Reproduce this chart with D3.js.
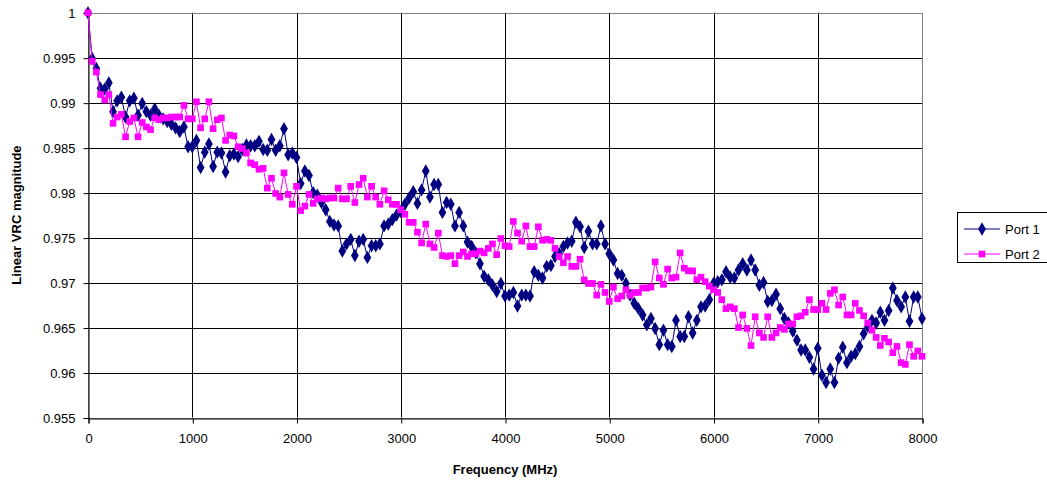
<!DOCTYPE html>
<html>
<head>
<meta charset="utf-8">
<script src="https://cdn.jsdelivr.net/npm/d3@7"></script>
<style>
  body { margin: 0; background: #fff; }
  svg { display: block; font-family: "Liberation Sans", Arial, sans-serif; }
</style>
</head>
<body>
<div id="chart"></div>
<script>
// sweep frequencies (MHz)
var freqMHz = [
  0, 40, 80, 120, 160, 200, 240, 280, 320, 360, 400, 440, 480, 520, 560, 600, 640, 680, 720, 760,
  800, 840, 880, 920, 960, 1000, 1040, 1080, 1120, 1160, 1200, 1240, 1280, 1320, 1360, 1400, 1440, 1480, 1520, 1560,
  1600, 1640, 1680, 1720, 1760, 1800, 1840, 1880, 1920, 1960, 2000, 2040, 2080, 2120, 2160, 2200, 2240, 2280, 2320, 2360,
  2400, 2440, 2480, 2520, 2560, 2600, 2640, 2680, 2720, 2760, 2800, 2840, 2880, 2920, 2960, 3000, 3040, 3080, 3120, 3160,
  3200, 3240, 3280, 3320, 3360, 3400, 3440, 3480, 3520, 3560, 3600, 3640, 3680, 3720, 3760, 3800, 3840, 3880, 3920, 3960,
  4000, 4040, 4080, 4120, 4160, 4200, 4240, 4280, 4320, 4360, 4400, 4440, 4480, 4520, 4560, 4600, 4640, 4680, 4720, 4760,
  4800, 4840, 4880, 4920, 4960, 5000, 5040, 5080, 5120, 5160, 5200, 5240, 5280, 5320, 5360, 5400, 5440, 5480, 5520, 5560,
  5600, 5640, 5680, 5720, 5760, 5800, 5840, 5880, 5920, 5960, 6000, 6040, 6080, 6120, 6160, 6200, 6240, 6280, 6320, 6360,
  6400, 6440, 6480, 6520, 6560, 6600, 6640, 6680, 6720, 6760, 6800, 6840, 6880, 6920, 6960, 7000, 7040, 7080, 7120, 7160,
  7200, 7240, 7280, 7320, 7360, 7400, 7440, 7480, 7520, 7560, 7600, 7640, 7680, 7720, 7760, 7800, 7840, 7880, 7920, 7960,
  8000
];

var port1 = [
  1.0000, 0.9949, 0.9938, 0.9916, 0.9915, 0.9922, 0.9890, 0.9902, 0.9906, 0.9884,
  0.9902, 0.9905, 0.9886, 0.9899, 0.9890, 0.9886, 0.9893, 0.9886, 0.9882, 0.9879,
  0.9876, 0.9872, 0.9868, 0.9873, 0.9851, 0.9851, 0.9858, 0.9828, 0.9845, 0.9854,
  0.9829, 0.9845, 0.9844, 0.9823, 0.9841, 0.9843, 0.9840, 0.9848, 0.9853, 0.9852,
  0.9852, 0.9857, 0.9848, 0.9847, 0.9859, 0.9847, 0.9852, 0.9871, 0.9842, 0.9844,
  0.9839, 0.9810, 0.9824, 0.9819, 0.9800, 0.9797, 0.9789, 0.9781, 0.9768, 0.9764,
  0.9763, 0.9735, 0.9743, 0.9748, 0.9730, 0.9746, 0.9748, 0.9728, 0.9741, 0.9741,
  0.9743, 0.9763, 0.9765, 0.9770, 0.9775, 0.9779, 0.9787, 0.9794, 0.9801, 0.9788,
  0.9803, 0.9824, 0.9795, 0.9809, 0.9809, 0.9778, 0.9789, 0.9787, 0.9763, 0.9778,
  0.9763, 0.9745, 0.9740, 0.9733, 0.9721, 0.9707, 0.9703, 0.9697, 0.9690, 0.9699,
  0.9685, 0.9686, 0.9689, 0.9674, 0.9686, 0.9686, 0.9685, 0.9712, 0.9708, 0.9705,
  0.9718, 0.9719, 0.9729, 0.9732, 0.9740, 0.9744, 0.9746, 0.9767, 0.9762, 0.9739,
  0.9757, 0.9743, 0.9743, 0.9763, 0.9743, 0.9732, 0.9725, 0.9710, 0.9708, 0.9699,
  0.9686, 0.9677, 0.9671, 0.9664, 0.9653, 0.9660, 0.9649, 0.9631, 0.9647, 0.9631,
  0.9629, 0.9658, 0.9640, 0.9640, 0.9662, 0.9644, 0.9658, 0.9673, 0.9674, 0.9681,
  0.9699, 0.9701, 0.9703, 0.9712, 0.9706, 0.9705, 0.9714, 0.9721, 0.9714, 0.9725,
  0.9714, 0.9697, 0.9700, 0.9679, 0.9680, 0.9687, 0.9671, 0.9660, 0.9655, 0.9646,
  0.9636, 0.9625, 0.9625, 0.9617, 0.9604, 0.9627, 0.9597, 0.9589, 0.9604, 0.9589,
  0.9616, 0.9628, 0.9611, 0.9618, 0.9621, 0.9629, 0.9643, 0.9651, 0.9658, 0.9655,
  0.9667, 0.9658, 0.9669, 0.9694, 0.9680, 0.9673, 0.9684, 0.9657, 0.9684, 0.9684,
  0.9660
];

var port2 = [
  1.0000, 0.9946, 0.9934, 0.9909, 0.9903, 0.9909, 0.9877, 0.9884, 0.9887, 0.9862,
  0.9879, 0.9883, 0.9862, 0.9878, 0.9873, 0.9870, 0.9883, 0.9881, 0.9883, 0.9883,
  0.9884, 0.9884, 0.9884, 0.9897, 0.9882, 0.9882, 0.9901, 0.9872, 0.9882, 0.9901,
  0.9871, 0.9881, 0.9883, 0.9858, 0.9864, 0.9863, 0.9851, 0.9849, 0.9844, 0.9833,
  0.9831, 0.9826, 0.9827, 0.9805, 0.9816, 0.9799, 0.9795, 0.9822, 0.9798, 0.9787,
  0.9807, 0.9780, 0.9785, 0.9798, 0.9788, 0.9793, 0.9794, 0.9793, 0.9794, 0.9794,
  0.9805, 0.9793, 0.9793, 0.9807, 0.9789, 0.9809, 0.9816, 0.9795, 0.9807, 0.9795,
  0.9787, 0.9802, 0.9792, 0.9787, 0.9787, 0.9781, 0.9776, 0.9767, 0.9767, 0.9756,
  0.9744, 0.9765, 0.9743, 0.9739, 0.9755, 0.9730, 0.9729, 0.9730, 0.9721, 0.9730,
  0.9734, 0.9729, 0.9732, 0.9732, 0.9735, 0.9733, 0.9738, 0.9743, 0.9731, 0.9749,
  0.9741, 0.9740, 0.9768, 0.9755, 0.9746, 0.9763, 0.9740, 0.9740, 0.9762, 0.9747,
  0.9748, 0.9747, 0.9738, 0.9729, 0.9722, 0.9729, 0.9718, 0.9718, 0.9726, 0.9703,
  0.9699, 0.9699, 0.9686, 0.9698, 0.9689, 0.9679, 0.9695, 0.9682, 0.9685, 0.9692,
  0.9686, 0.9689, 0.9689, 0.9694, 0.9694, 0.9695, 0.9723, 0.9705, 0.9698, 0.9715,
  0.9705, 0.9706, 0.9733, 0.9716, 0.9713, 0.9713, 0.9703, 0.9706, 0.9701, 0.9696,
  0.9692, 0.9689, 0.9681, 0.9671, 0.9673, 0.9671, 0.9650, 0.9664, 0.9649, 0.9630,
  0.9662, 0.9644, 0.9639, 0.9662, 0.9639, 0.9644, 0.9650, 0.9648, 0.9654, 0.9654,
  0.9662, 0.9663, 0.9667, 0.9681, 0.9670, 0.9670, 0.9677, 0.9670, 0.9688, 0.9692,
  0.9675, 0.9684, 0.9664, 0.9664, 0.9677, 0.9669, 0.9663, 0.9655, 0.9647, 0.9639,
  0.9630, 0.9638, 0.9634, 0.9622, 0.9629, 0.9611, 0.9609, 0.9631, 0.9618, 0.9624,
  0.9618
];

var xTicks = [0, 1000, 2000, 3000, 4000, 5000, 6000, 7000, 8000];
var yTicks = [0.955, 0.96, 0.965, 0.97, 0.975, 0.98, 0.985, 0.99, 0.995, 1];
var seriesNames = ["Port 1", "Port 2"];

var width = 1047, height = 485;
var plotLeft = 88, plotRight = 922, plotTop = 12.7, plotBottom = 417.5;

var svg = d3.select("#chart").append("svg")
    .attr("width", width)
    .attr("height", height);

var x = d3.scaleLinear().domain([0, 8000]).range([plotLeft, plotRight]);
var y = d3.scaleLinear().domain([0.955, 1]).range([plotBottom, plotTop]);

// grid
svg.append("g").selectAll("line")
    .data(yTicks.slice(1))
    .enter().append("line")
    .attr("x1", plotLeft).attr("x2", plotRight)
    .attr("y1", d => Math.round(y(d)) + 0.5).attr("y2", d => Math.round(y(d)) + 0.5)
    .attr("stroke", "#000").attr("stroke-width", 1);

svg.append("g").selectAll("line")
    .data(xTicks.slice(1, -1))
    .enter().append("line")
    .attr("y1", plotTop).attr("y2", plotBottom)
    .attr("x1", d => Math.round(x(d)) + 0.5).attr("x2", d => Math.round(x(d)) + 0.5)
    .attr("stroke", "#000").attr("stroke-width", 1);

// plot border (gray)
svg.append("rect")
    .attr("x", plotLeft + 0.5).attr("y", Math.round(plotTop) + 0.5)
    .attr("width", plotRight - plotLeft).attr("height", Math.round(plotBottom) - Math.round(plotTop))
    .attr("fill", "none").attr("stroke", "#808080");

// axes
var yAxis = d3.axisLeft(y).tickValues(yTicks).tickSize(5).tickPadding(8)
    .tickFormat(d => String(+d.toFixed(3)));
var gy = svg.append("g")
    .attr("transform", "translate(" + (plotLeft + 0.5) + ",0.5)")
    .call(yAxis);

var xAxis = d3.axisBottom(x).tickValues(xTicks).tickSize(5).tickPadding(10)
    .tickFormat(d3.format("d"));
var gx = svg.append("g")
    .attr("transform", "translate(0.5," + (Math.round(plotBottom) + 0.5) + ")")
    .call(xAxis);

[gx, gy].forEach(function (g) {
    g.select(".domain").attr("stroke", "#000");
    g.selectAll(".tick line").attr("stroke", "#000");
    g.selectAll(".tick text")
        .attr("fill", "#000")
        .style("font-size", "13px")
        .style("font-family", "'Liberation Sans', Arial, sans-serif");
});

// axis titles
svg.append("text")
    .text("Frequency (MHz)")
    .attr("x", (plotLeft + plotRight) / 2)
    .attr("y", 474)
    .attr("text-anchor", "middle")
    .style("font-size", "13px")
    .style("font-weight", "bold");

svg.append("text")
    .text("Linear VRC magnitude")
    .attr("transform", "translate(21," + (plotTop + plotBottom) / 2 + ") rotate(-90)")
    .attr("text-anchor", "middle")
    .style("font-size", "13px")
    .style("font-weight", "bold");

// series
var colors = ["#000080", "#ff00ff"];
var data = [port1, port2];
var line = d3.line()
    .x((d, i) => x(freqMHz[i]))
    .y(d => y(d));

var diamond = d3.symbol().type(d3.symbolDiamond).size(52);
var square = d3.symbol().type(d3.symbolSquare).size(44);
var shapes = [diamond, square];

data.forEach(function (vals, s) {
    svg.append("path")
        .datum(vals)
        .attr("d", line)
        .attr("fill", "none")
        .attr("stroke", colors[s])
        .attr("stroke-width", 1);

    svg.append("g").selectAll("path")
        .data(vals)
        .enter().append("path")
        .attr("d", shapes[s])
        .attr("transform", (d, i) => "translate(" + x(freqMHz[i]) + "," + y(d) + ")")
        .attr("fill", colors[s]);
});

// legend
var legend = svg.append("g");
legend.append("rect")
    .attr("x", 957.5).attr("y", 212.5)
    .attr("width", 100).attr("height", 50)
    .attr("fill", "#fff").attr("stroke", "#000");

seriesNames.forEach(function (name, s) {
    var ly = 229 + s * 25;
    legend.append("line")
        .attr("x1", 964).attr("x2", 1000)
        .attr("y1", ly).attr("y2", ly)
        .attr("stroke", colors[s]);
    legend.append("path")
        .attr("d", shapes[s])
        .attr("transform", "translate(982," + ly + ")")
        .attr("fill", colors[s]);
    legend.append("text")
        .text(name)
        .attr("x", 1005).attr("y", ly + 5)
        .style("font-size", "13px");
});
</script>
</body>
</html>
